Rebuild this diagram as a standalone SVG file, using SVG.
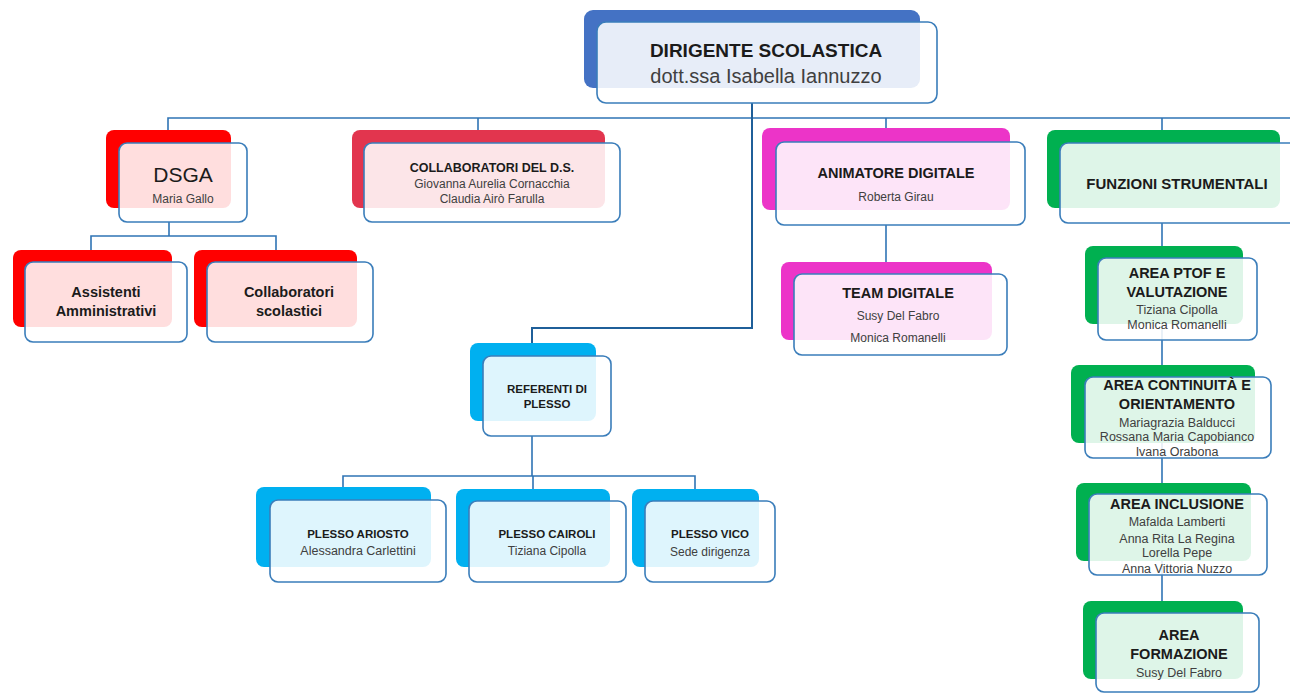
<svg xmlns="http://www.w3.org/2000/svg" width="1290" height="693" viewBox="0 0 1290 693">
<style>
.front{fill:#fff;fill-opacity:0.87;stroke:#3A7DBA;stroke-width:1.6}
.conn{stroke:#2F74B5;stroke-width:1.6;fill:none}
.main{stroke:#1F5F99;stroke-width:2;fill:none}
.blue{fill:#4472C4}.red{fill:#FF0000}.crim{fill:#E2354E}.mag{fill:#EC34C8}.green{fill:#00B050}.cyan{fill:#00B0F0}
text{font-family:"Liberation Sans",Arial,sans-serif;text-anchor:middle;fill:#1b1b1b}
.b{font-weight:bold}
.n{fill:#404040}
</style>
<rect width="1290" height="693" fill="#fff"/>
<g id="connectors">
<path class="conn" d="M168 130V118H1290M478 118V130M886 118V128M1162 118V130"/>
<path class="main" d="M752 103V328H532V343"/>
<path class="conn" d="M169 222V236M91 250V236H276V250"/>
<path class="conn" d="M886 225V262"/>
<path class="conn" d="M1162 223V613"/>
<path class="conn" d="M532 436V476M343 487V476H695V489M533 476V489"/>
</g>
<g id="dirigente">
<rect class="blue" x="584" y="10" width="336" height="78" rx="9"/>
<rect class="front" x="597" y="22" width="340" height="81" rx="9"/>
<text class="b" x="766" y="57" font-size="19">DIRIGENTE SCOLASTICA</text>
<text class="n" x="766" y="83" font-size="20">dott.ssa Isabella Iannuzzo</text>
</g>
<g id="dsga">
<rect class="red" x="106" y="130" width="125" height="78" rx="8"/>
<rect class="front" x="119" y="143" width="128" height="79" rx="8"/>
<text x="183" y="182" font-size="21">DSGA</text>
<text class="n" x="183" y="203" font-size="12">Maria Gallo</text>
</g>
<g id="assistenti">
<rect class="red" x="13" y="250" width="159" height="77" rx="8"/>
<rect class="front" x="25" y="262" width="162" height="80" rx="8"/>
<text class="b" x="106" y="297" font-size="14.5">Assistenti</text>
<text class="b" x="106" y="316" font-size="14.5">Amministrativi</text>
</g>
<g id="collab-scolastici">
<rect class="red" x="194" y="250" width="163" height="77" rx="8"/>
<rect class="front" x="207" y="262" width="166" height="80" rx="8"/>
<text class="b" x="289" y="297" font-size="14.5">Collaboratori</text>
<text class="b" x="289" y="316" font-size="14.5">scolastici</text>
</g>
<g id="collab-ds">
<rect class="crim" x="352" y="130" width="253" height="78" rx="8"/>
<rect class="front" x="364" y="143" width="256" height="79" rx="8"/>
<text class="b" x="492" y="172" font-size="12.5">COLLABORATORI DEL D.S.</text>
<text class="n" x="492" y="188" font-size="12">Giovanna Aurelia Cornacchia</text>
<text class="n" x="492" y="203" font-size="12">Claudia Airò Farulla</text>
</g>
<g id="animatore">
<rect class="mag" x="762" y="128" width="248" height="82" rx="8"/>
<rect class="front" x="776" y="142" width="249" height="83" rx="8"/>
<text class="b" x="896" y="178" font-size="14.5">ANIMATORE DIGITALE</text>
<text class="n" x="896" y="201" font-size="12">Roberta Girau</text>
</g>
<g id="team">
<rect class="mag" x="781" y="262" width="211" height="78" rx="8"/>
<rect class="front" x="794" y="274" width="213" height="81" rx="8"/>
<text class="b" x="898" y="298" font-size="14.5">TEAM DIGITALE</text>
<text class="n" x="898" y="320" font-size="12">Susy Del Fabro</text>
<text class="n" x="898" y="342" font-size="12">Monica Romanelli</text>
</g>
<g id="funzioni">
<rect class="green" x="1047" y="130" width="233" height="78" rx="8"/>
<rect class="front" x="1060" y="143" width="240" height="80" rx="8"/>
<text class="b" x="1177" y="189" font-size="15">FUNZIONI STRUMENTALI</text>
</g>
<g id="ptof">
<rect class="green" x="1085" y="246" width="158" height="78" rx="8"/>
<rect class="front" x="1098" y="258" width="159" height="82" rx="8"/>
<text class="b" x="1177" y="278" font-size="14.5">AREA PTOF E</text>
<text class="b" x="1177" y="297" font-size="14.5">VALUTAZIONE</text>
<text class="n" x="1177" y="314" font-size="12.5">Tiziana Cipolla</text>
<text class="n" x="1177" y="329" font-size="12.5">Monica Romanelli</text>
</g>
<g id="continuita">
<rect class="green" x="1071" y="365" width="184" height="78" rx="8"/>
<rect class="front" x="1085" y="377" width="186" height="81" rx="8"/>
<text class="b" x="1177" y="390" font-size="14.5">AREA CONTINUITÀ E</text>
<text class="b" x="1177" y="409" font-size="14.5">ORIENTAMENTO</text>
<text class="n" x="1177" y="427" font-size="12.5">Mariagrazia Balducci</text>
<text class="n" x="1177" y="441" font-size="12.5">Rossana Maria Capobianco</text>
<text class="n" x="1177" y="456" font-size="12.5">Ivana Orabona</text>
</g>
<g id="inclusione">
<rect class="green" x="1076" y="483" width="175" height="78" rx="8"/>
<rect class="front" x="1089" y="494" width="178" height="81" rx="8"/>
<text class="b" x="1177" y="509" font-size="14.5">AREA INCLUSIONE</text>
<text class="n" x="1177" y="526" font-size="12.5">Mafalda Lamberti</text>
<text class="n" x="1177" y="543" font-size="12.5">Anna Rita La Regina</text>
<text class="n" x="1177" y="557" font-size="12.5">Lorella Pepe</text>
<text class="n" x="1177" y="573" font-size="12.5">Anna Vittoria Nuzzo</text>
</g>
<g id="formazione">
<rect class="green" x="1083" y="601" width="160" height="78" rx="8"/>
<rect class="front" x="1096" y="613" width="163" height="79" rx="8"/>
<text class="b" x="1179" y="640" font-size="14.5">AREA</text>
<text class="b" x="1179" y="659" font-size="14.5">FORMAZIONE</text>
<text class="n" x="1179" y="677" font-size="12.5">Susy Del Fabro</text>
</g>
<g id="referenti">
<rect class="cyan" x="470" y="343" width="126" height="78" rx="8"/>
<rect class="front" x="483" y="356" width="128" height="80" rx="8"/>
<text class="b" x="547" y="393" font-size="11.5">REFERENTI DI</text>
<text class="b" x="547" y="408" font-size="11.5">PLESSO</text>
</g>
<g id="ariosto">
<rect class="cyan" x="256" y="487" width="175" height="80" rx="8"/>
<rect class="front" x="270" y="500" width="176" height="82" rx="8"/>
<text class="b" x="358" y="538" font-size="11.5">PLESSO ARIOSTO</text>
<text class="n" x="358" y="555" font-size="12.5">Alessandra Carlettini</text>
</g>
<g id="cairoli">
<rect class="cyan" x="456" y="489" width="154" height="78" rx="8"/>
<rect class="front" x="469" y="501" width="157" height="81" rx="8"/>
<text class="b" x="547" y="538" font-size="11.5">PLESSO CAIROLI</text>
<text class="n" x="547" y="555" font-size="12">Tiziana Cipolla</text>
</g>
<g id="vico">
<rect class="cyan" x="632" y="489" width="127" height="78" rx="8"/>
<rect class="front" x="645" y="501" width="130" height="81" rx="8"/>
<text class="b" x="710" y="538" font-size="11.5">PLESSO VICO</text>
<text class="n" x="710" y="556" font-size="12">Sede dirigenza</text>
</g>
</svg>
